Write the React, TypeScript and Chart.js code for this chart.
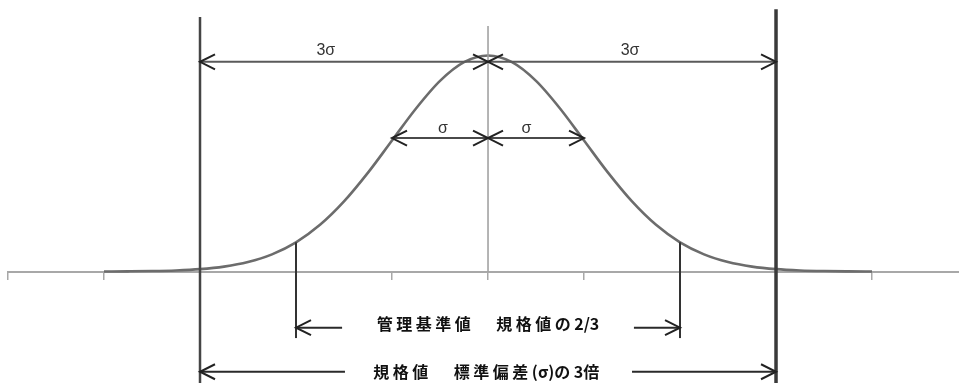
import React, { useEffect, useRef } from 'react';
import { Chart, registerables } from 'chart.js';

Chart.register(...registerables);

// ---- data (x in units of σ, y = relative frequency, peak = 1) ----
const sigmaPositions = [
  -4, -3.75, -3.5, -3.25, -3, -2.75, -2.5, -2.25, -2, -1.75, -1.5, -1.25, -1, -0.75, -0.5, -0.25,
  0, 0.25, 0.5, 0.75, 1, 1.25, 1.5, 1.75, 2, 2.25, 2.5, 2.75, 3, 3.25, 3.5, 3.75, 4,
];
const relativeDensity = [
  0.0003, 0.0009, 0.0022, 0.0051, 0.0111, 0.0228, 0.0439, 0.0796, 0.1353, 0.2163, 0.3247, 0.4578,
  0.6065, 0.7548, 0.8825, 0.9692, 1.0, 0.9692, 0.8825, 0.7548, 0.6065, 0.4578, 0.3247, 0.2163,
  0.1353, 0.0796, 0.0439, 0.0228, 0.0111, 0.0051, 0.0022, 0.0009, 0.0003,
];
const axisTickValues = [-5, -4, -3, -2, -1, 0, 1, 2, 3, 4];
const specLimits = [-3, 3];
const controlLimits = [-2, 2];
const threeSigmaLabels = ['3σ', '3σ'];
const oneSigmaLabels = ['σ', 'σ'];
const controlCaption = '管理基準値 規格値の2/3';
const specCaption = '規格値 標準偏差(σ)の3倍';

// ---- layout (data units) ----
const X_MIN = -5;
const X_MAX = 4.906;
const Y_MIN = -0.516;
const Y_MAX = 1.257;

const CJK_GAP = 3.5;
const SPACE_ADV = 22;
const ASCII_GAP = 0;

function drawSpaced(ctx: CanvasRenderingContext2D, text: string, cx: number, cy: number) {
  const chars = Array.from(text);
  const adv = chars.map((ch) => {
    if (ch === ' ') return SPACE_ADV;
    const w = ctx.measureText(ch).width;
    return ch.charCodeAt(0) > 0x2000 && ch !== 'σ' ? w + CJK_GAP : w + ASCII_GAP;
  });
  const total = adv.reduce((a, b) => a + b, 0);
  let x = cx - total / 2;
  ctx.textAlign = 'left';
  chars.forEach((ch, i) => {
    if (ch !== ' ') ctx.fillText(ch, x, cy);
    x += adv[i];
  });
}

const guidePlugin = {
  id: 'guides',
  afterDatasetsDraw(chart: any) {
    const { ctx, scales } = chart;
    const X = (v: number) => scales.x.getPixelForValue(v);
    const Y = (v: number) => scales.y.getPixelForValue(v);
    ctx.save();
    ctx.lineCap = 'butt';
    ctx.lineJoin = 'miter';

    const vline = (xv: number, y1: number, y2: number, color: string, w: number) => {
      ctx.strokeStyle = color;
      ctx.lineWidth = w;
      ctx.beginPath();
      ctx.moveTo(X(xv), Y(y1));
      ctx.lineTo(X(xv), Y(y2));
      ctx.stroke();
    };
    const head = (xv: number, yv: number, dir: number) => {
      const tx = X(xv);
      const ty = Y(yv);
      ctx.strokeStyle = '#222';
      ctx.lineWidth = 2;
      ctx.beginPath();
      ctx.moveTo(tx - dir * 15, ty - 7.5);
      ctx.lineTo(tx, ty);
      ctx.lineTo(tx - dir * 15, ty + 7.5);
      ctx.stroke();
    };
    const arrow = (x1: number, x2: number, yv: number, h1: boolean, h2: boolean, color: string) => {
      ctx.strokeStyle = color;
      ctx.lineWidth = 2;
      ctx.beginPath();
      ctx.moveTo(X(x1), Y(yv));
      ctx.lineTo(X(x2), Y(yv));
      ctx.stroke();
      if (h1) head(x1, yv, -1);
      if (h2) head(x2, yv, 1);
    };

    // centre line
    vline(0, 0, 1.137, '#9c9c9c', 1.5);
    // spec limit lines
    vline(specLimits[0], 1.178, Y_MIN - 0.1, '#454545', 2.5);
    vline(specLimits[1], 1.214, Y_MIN - 0.1, '#3a3a3a', 3.5);
    // control limit lines: from the curve down
    controlLimits.forEach((c) => {
      const idx = sigmaPositions.indexOf(c);
      vline(c, relativeDensity[idx], -0.308, '#333', 2);
    });

    // 3σ arrows
    arrow(specLimits[0], 0, 0.971, true, true, '#5a5a5a');
    arrow(0, specLimits[1], 0.971, true, true, '#5a5a5a');
    // σ arrows
    arrow(-1, 0, 0.618, true, true, '#4a4a4a');
    arrow(0, 1, 0.618, true, true, '#4a4a4a');

    // bottom arrows
    arrow(controlLimits[0], -1.52, -0.26, true, false, '#2a2a2a');
    arrow(1.52, controlLimits[1], -0.26, false, true, '#2a2a2a');
    arrow(specLimits[0], -1.49, -0.464, true, false, '#2a2a2a');
    arrow(1.5, specLimits[1], -0.464, false, true, '#2a2a2a');

    // labels
    ctx.fillStyle = '#333';
    ctx.textAlign = 'center';
    ctx.textBaseline = 'middle';
    ctx.font = "16px 'Liberation Sans', Arial, sans-serif";
    ctx.fillText(threeSigmaLabels[0], X(-1.69), Y(1.021));
    ctx.fillText(threeSigmaLabels[1], X(1.48), Y(1.021));
    ctx.fillText(oneSigmaLabels[0], X(-0.47), Y(0.664));
    ctx.fillText(oneSigmaLabels[1], X(0.4), Y(0.664));

    ctx.fillStyle = '#111';
    ctx.font = "bold 16px 'Noto Sans CJK JP', sans-serif";
    drawSpaced(ctx, controlCaption, X(0), Y(-0.241));
    drawSpaced(ctx, specCaption, X(0), Y(-0.465));
    ctx.restore();
  },
};

export default function App() {
  const ref = useRef<HTMLCanvasElement | null>(null);
  useEffect(() => {
    if (!ref.current) return;
    const chart = new Chart(ref.current, {
      type: 'line',
      data: {
        datasets: [
          {
            data: sigmaPositions.map((x, i) => ({ x, y: relativeDensity[i] })),
            borderColor: '#6c6c6c',
            borderWidth: 2.6,
            pointRadius: 0,
            fill: false,
            cubicInterpolationMode: 'monotone',
          },
        ],
      },
      options: {
        responsive: false,
        animation: false,
        events: [],
        layout: { padding: { left: 8, right: 0, top: 0, bottom: 0 } },
        plugins: { legend: { display: false }, tooltip: { enabled: false } },
        scales: {
          x: {
            type: 'linear',
            min: X_MIN,
            max: X_MAX,
            position: { y: 0 },
            afterBuildTicks: (s: any) => {
              s.ticks = axisTickValues.map((v) => ({ value: v }));
            },
            ticks: { display: false },
            grid: { drawOnChartArea: false, drawTicks: true, tickLength: 7, color: '#a8a8a8', lineWidth: 1.5 },
            border: { display: true, color: '#a8a8a8', width: 2 },
          },
          y: { type: 'linear', min: Y_MIN, max: Y_MAX, display: false },
        },
      },
      plugins: [guidePlugin],
    } as any);
    return () => chart.destroy();
  }, []);
  return (
    <div style={{ position: 'fixed', left: 0, top: 0, width: 959, height: 383, background: '#fff' }}>
      <canvas ref={ref} width={959} height={383} style={{ width: 959, height: 383, display: 'block' }} />
    </div>
  );
}
